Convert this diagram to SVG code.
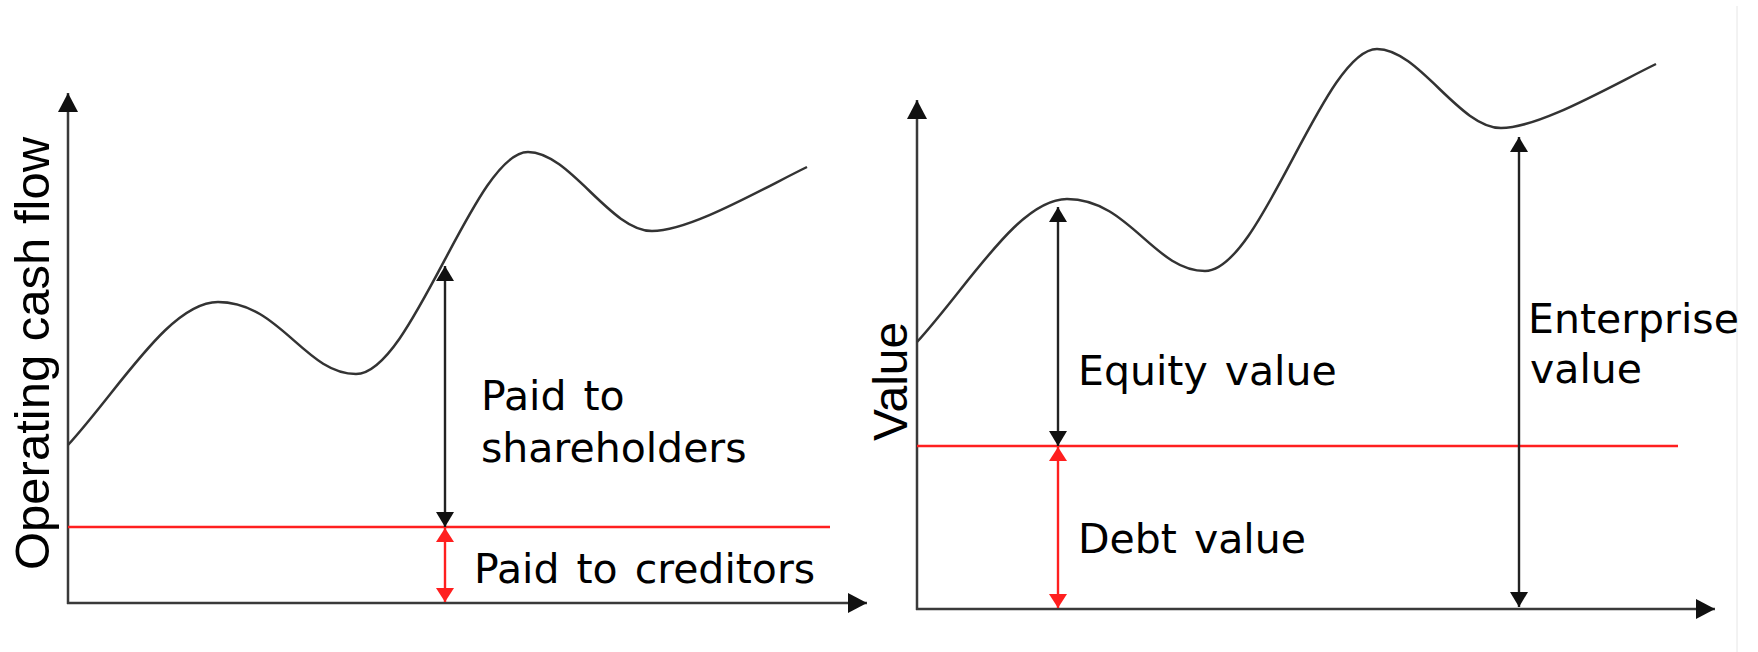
<svg xmlns="http://www.w3.org/2000/svg" width="1758" height="652" viewBox="0 0 1758 652">
<style>
.axis{stroke:#3a3a3a;stroke-width:2.5;fill:none}
.curve{stroke:#333;stroke-width:2.5;fill:none}
.red{stroke:#ff1f1f;stroke-width:2.4;fill:none}
.blk{stroke:#222;stroke-width:2.4;fill:none}
.lab{font-family:"DejaVu Sans",Verdana,sans-serif;font-size:41px;word-spacing:4px;fill:#000}
.ax{font-family:"Liberation Sans",Arial,sans-serif;fill:#000}
</style>
<defs>
<marker id="axh" markerUnits="userSpaceOnUse" markerWidth="20" markerHeight="20" refX="19" refY="10" orient="auto"><path d="M0,0 L19,10 L0,20 z" fill="#111"/></marker>
<marker id="bh" markerUnits="userSpaceOnUse" markerWidth="16" markerHeight="18" refX="15" refY="9" orient="auto-start-reverse"><path d="M0,0 L15,9 L0,18 z" fill="#111"/></marker>
<marker id="rh" markerUnits="userSpaceOnUse" markerWidth="16" markerHeight="18" refX="14" refY="9" orient="auto-start-reverse"><path d="M0,0 L14,9 L0,18 z" fill="#ff1f1f"/></marker>
<path id="wave" d="M68,445 C120,388 170,302 218,302 C280,302 305,374 356,374 C412,374 475,152 528,152 C570,152 610,231 652,231 C690,231 760,190 807,167"/>
</defs>
<rect width="1758" height="652" fill="#fff"/>
<line x1="1737" y1="6" x2="1737" y2="652" stroke="#e6e6e6" stroke-width="1"/>

<g id="left-chart">
  <g id="left-axes">
    <line class="axis" x1="68" y1="604" x2="68" y2="93" marker-end="url(#axh)"/>
    <line class="axis" x1="67" y1="603" x2="867" y2="603" marker-end="url(#axh)"/>
  </g>
  <g id="left-curve"><use href="#wave" class="curve"/></g>
  <g id="left-red-line"><line class="red" x1="68" y1="527" x2="830" y2="527"/></g>
  <g id="left-ylabel"><text class="ax" font-size="49" transform="translate(49,570) rotate(-90)">Operating cash flow</text></g>
  <g id="label-shareholders"><text class="lab" x="481" y="410">Paid to</text><text class="lab" x="481" y="462">shareholders</text></g>
  <g id="label-creditors"><text class="lab" x="474" y="583">Paid to creditors</text></g>
</g>

<g id="right-chart">
  <g id="right-axes">
    <line class="axis" x1="917" y1="610" x2="917" y2="100" marker-end="url(#axh)"/>
    <line class="axis" x1="916" y1="609" x2="1715" y2="609" marker-end="url(#axh)"/>
  </g>
  <g id="right-curve"><use href="#wave" class="curve" transform="translate(849,-103)"/></g>
  <g id="right-red-line"><line class="red" x1="917" y1="446" x2="1678" y2="446"/></g>
  <g id="right-ylabel"><text class="ax" font-size="48" transform="translate(907,441) rotate(-90)">Value</text></g>
  <g id="label-equity"><text class="lab" x="1078" y="385">Equity value</text></g>
  <g id="label-debt"><text class="lab" x="1078" y="553">Debt value</text></g>
  <g id="label-enterprise"><text class="lab" x="1528" y="333">Enterprise</text><text class="lab" x="1530" y="383">value</text></g>
</g>

<g id="connectors">
  <line class="blk" x1="445" y1="266" x2="445" y2="527" marker-start="url(#bh)" marker-end="url(#bh)"/>
  <line class="red" x1="445" y1="528" x2="445" y2="602" marker-start="url(#rh)" marker-end="url(#rh)"/>
  <line class="blk" x1="1058" y1="207" x2="1058" y2="446" marker-start="url(#bh)" marker-end="url(#bh)"/>
  <line class="red" x1="1058" y1="447" x2="1058" y2="608" marker-start="url(#rh)" marker-end="url(#rh)"/>
  <line class="blk" x1="1519" y1="137" x2="1519" y2="607" marker-start="url(#bh)" marker-end="url(#bh)"/>
</g>
</svg>
